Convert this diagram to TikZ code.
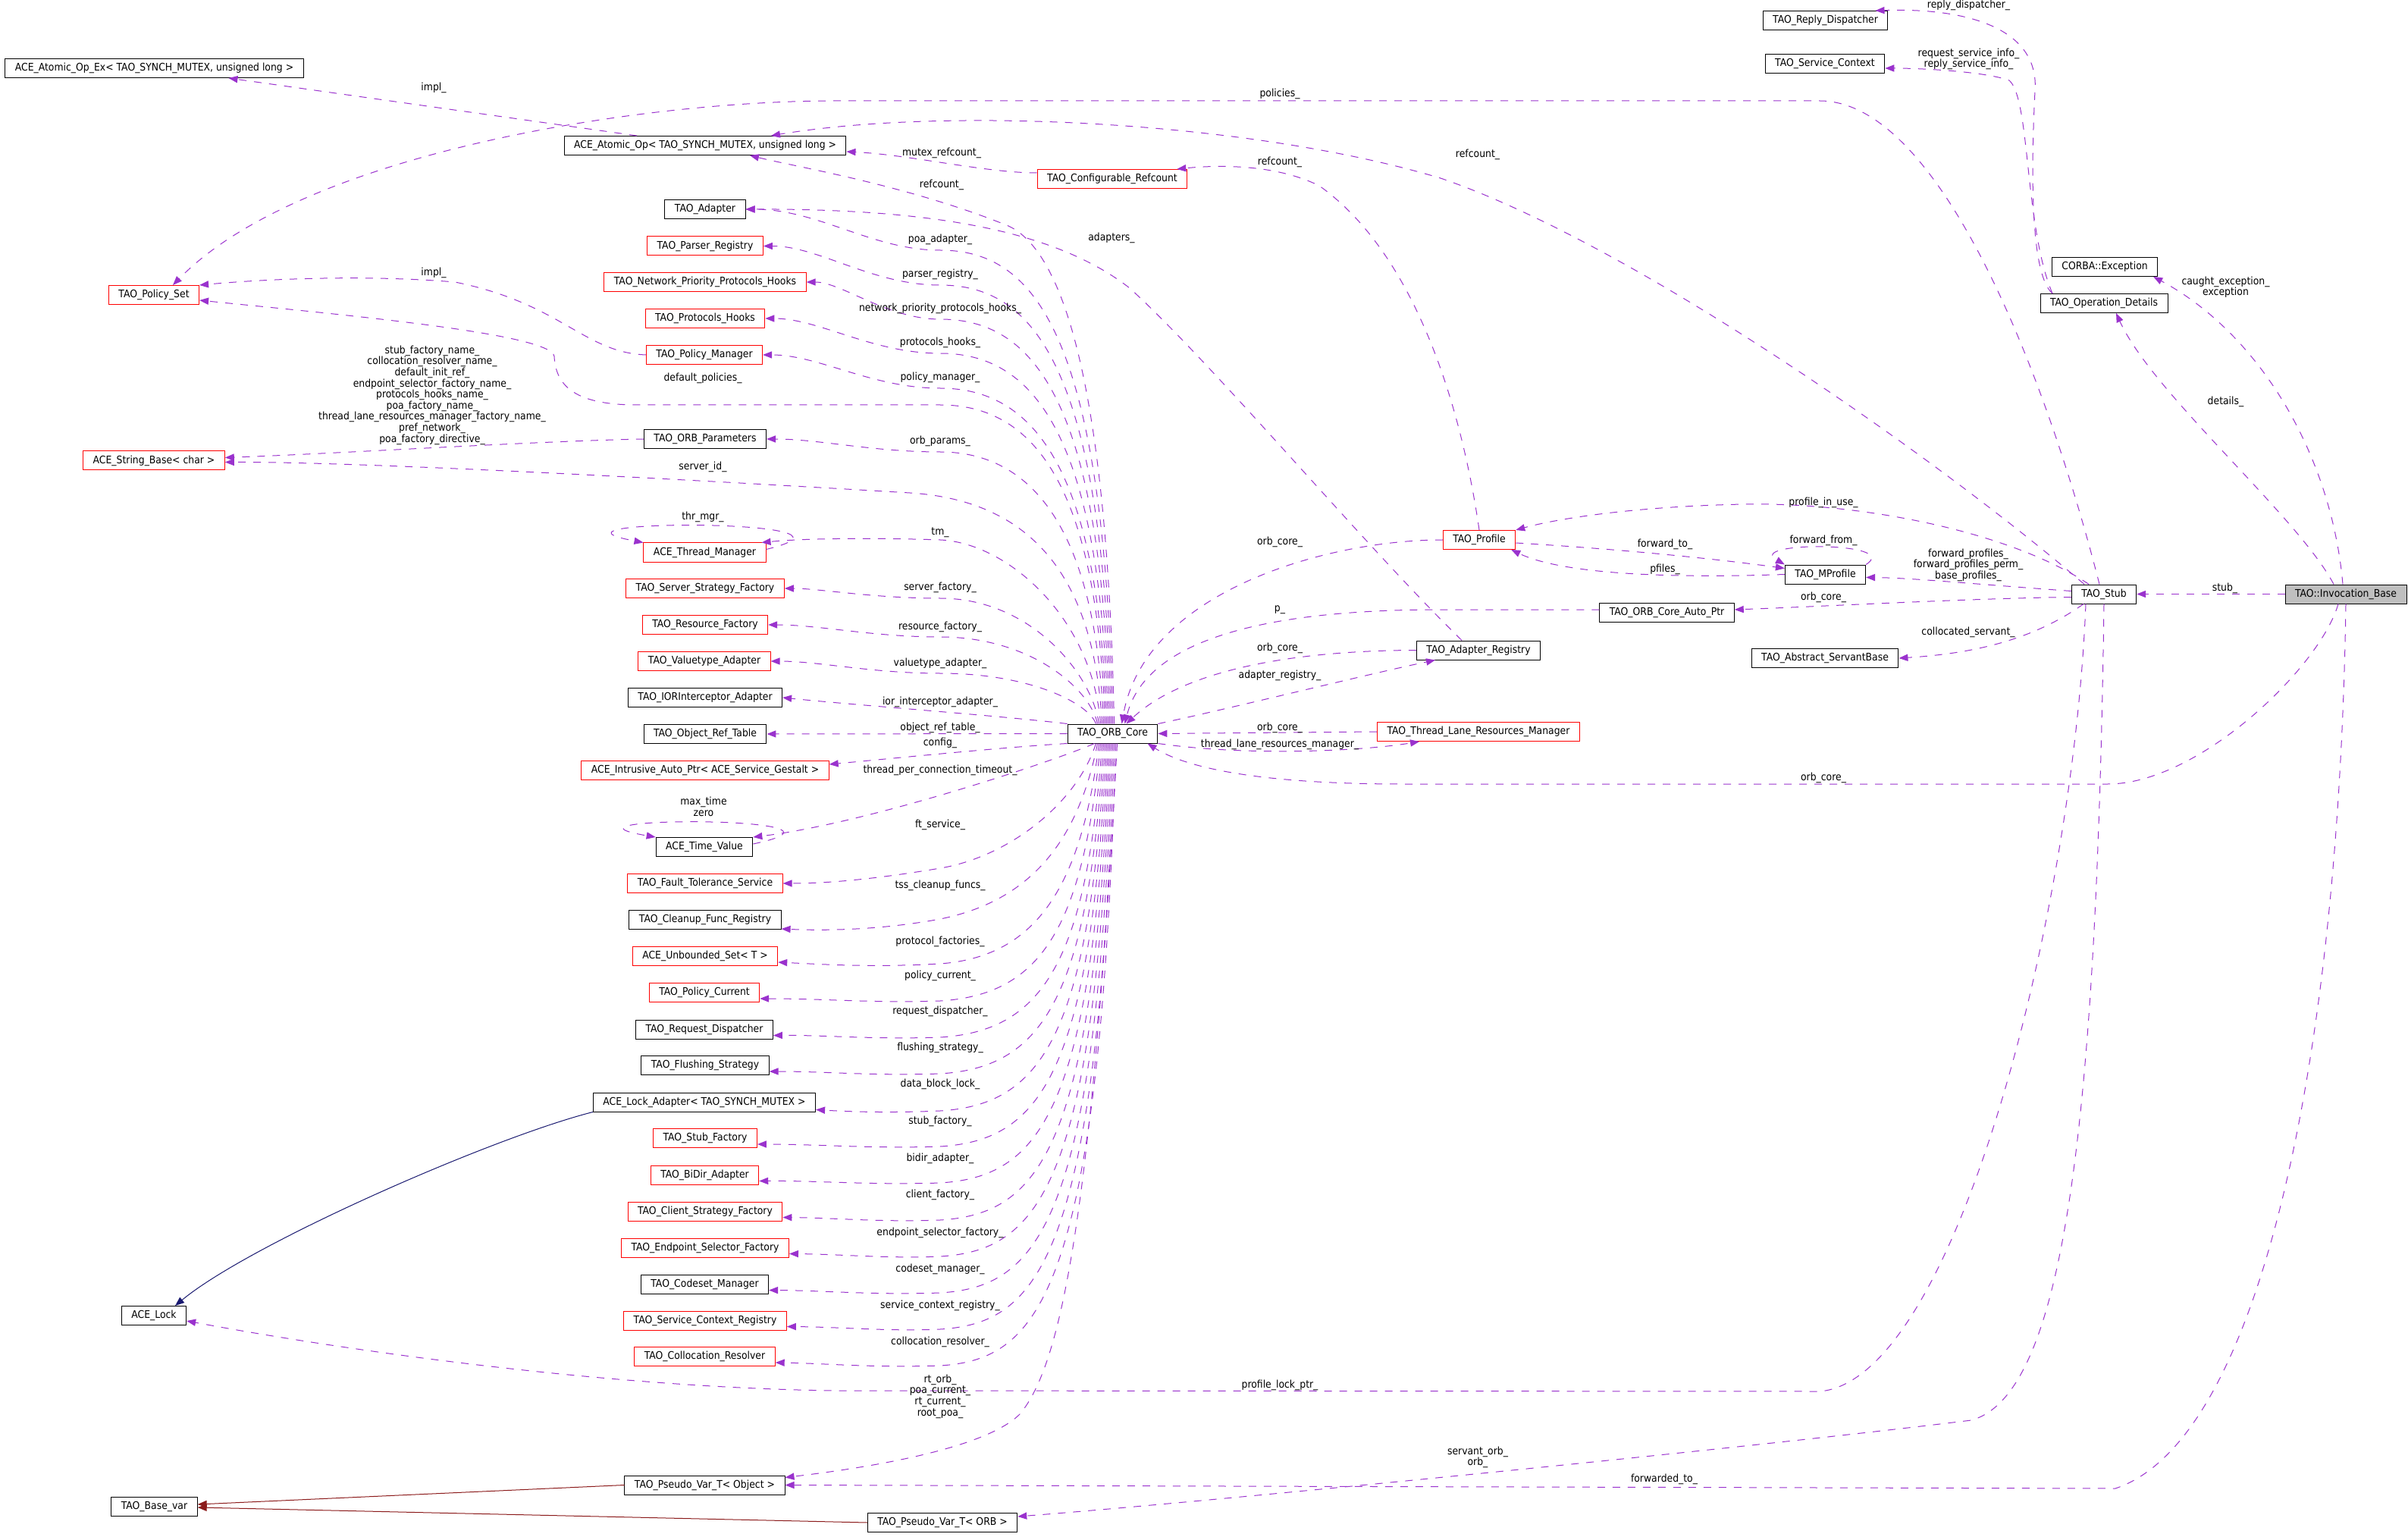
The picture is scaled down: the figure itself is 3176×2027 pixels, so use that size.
\documentclass[tikz,border=0pt]{standalone}
\usepackage{fontspec}
\usepackage{tikz}
\usetikzlibrary{arrows.meta}
\newfontfamily\diagfam{DejaVu Sans}[FakeStretch=0.9]
\newcommand{\diagfont}{\diagfam\fontsize{6.9}{7.3}\selectfont}
\definecolor{memcol}{HTML}{9A32CD}
\definecolor{pubcol}{HTML}{191970}
\definecolor{privcol}{HTML}{8B1A1A}
\definecolor{curfill}{HTML}{BFBFBF}
\tikzset{
    block/.style = {
        draw,
        shape=rectangle,
        fill=white,
        minimum height=12.5pt,
        inner xsep=6.5pt,
        inner ysep=0pt,
        line width=0.5pt,
        font=\diagfont
    },
    redblock/.style = {
        block,
        draw=red
    },
    curblock/.style = {
        block,
        fill=curfill
    },
    lbl/.style = {
        inner sep=0pt,
        align=center,
        font=\diagfont
    },
    member/.style = {
        color=memcol,
        dash pattern=on 5pt off 5pt,
        line width=0.5pt
    },
    pub/.style = {
        color=pubcol,
        line width=0.5pt
    },
    priv/.style = {
        color=privcol,
        line width=0.5pt
    },
    >={Triangle[length=6pt,width=4.6pt]},
}
\begin{document}
\begin{tikzpicture}[x=0.5pt, y=-0.5pt]
                \useasboundingbox (0,0) rectangle (3176,2027);

                \node[block] (atomicopex) at (203.5,90) {ACE\_Atomic\_Op\_Ex< TAO\_SYNCH\_MUTEX, unsigned long >};
                \node[block] (atomicop) at (930,192) {ACE\_Atomic\_Op< TAO\_SYNCH\_MUTEX, unsigned long >};
                \node[redblock] (policyset) at (203,389) {TAO\_Policy\_Set};
                \node[redblock] (stringbase) at (203,607.5) {ACE\_String\_Base< char >};
                \node[block] (acelock) at (203,1735) {ACE\_Lock};
                \node[block] (basevar) at (203.5,1987) {TAO\_Base\_var};
                \node[block] (adapter) at (930,276) {TAO\_Adapter};
                \node[redblock] (parser) at (930,324.5) {TAO\_Parser\_Registry};
                \node[redblock] (netprio) at (930,372) {TAO\_Network\_Priority\_Protocols\_Hooks};
                \node[redblock] (protohooks) at (930,420) {TAO\_Protocols\_Hooks};
                \node[redblock] (polmgr) at (929,468) {TAO\_Policy\_Manager};
                \node[block] (orbparams) at (930,579) {TAO\_ORB\_Parameters};
                \node[redblock] (thrmgr) at (929.5,728.5) {ACE\_Thread\_Manager};
                \node[redblock] (srvfact) at (930,776) {TAO\_Server\_Strategy\_Factory};
                \node[redblock] (resfact) at (930,824) {TAO\_Resource\_Factory};
                \node[redblock] (valadapt) at (929,872) {TAO\_Valuetype\_Adapter};
                \node[block] (iorint) at (930,920) {TAO\_IORInterceptor\_Adapter};
                \node[block] (objref) at (930,968) {TAO\_Object\_Ref\_Table};
                \node[redblock] (intrusive) at (930,1016) {ACE\_Intrusive\_Auto\_Ptr< ACE\_Service\_Gestalt >};
                \node[block] (timeval) at (929,1117) {ACE\_Time\_Value};
                \node[redblock] (ftserv) at (930,1165) {TAO\_Fault\_Tolerance\_Service};
                \node[block] (cleanup) at (930,1213) {TAO\_Cleanup\_Func\_Registry};
                \node[redblock] (unbset) at (930,1261) {ACE\_Unbounded\_Set< T >};
                \node[redblock] (polcur) at (929,1309) {TAO\_Policy\_Current};
                \node[block] (reqdisp) at (929,1357.5) {TAO\_Request\_Dispatcher};
                \node[block] (flush) at (930,1405) {TAO\_Flushing\_Strategy};
                \node[block] (lockadapt) at (929,1453.5) {ACE\_Lock\_Adapter< TAO\_SYNCH\_MUTEX >};
                \node[redblock] (stubfact) at (930,1501) {TAO\_Stub\_Factory};
                \node[redblock] (bidir) at (929.5,1549.5) {TAO\_BiDir\_Adapter};
                \node[redblock] (clistrat) at (930,1597.5) {TAO\_Client\_Strategy\_Factory};
                \node[redblock] (endpoint) at (930,1645.5) {TAO\_Endpoint\_Selector\_Factory};
                \node[block] (codeset) at (929.5,1693.5) {TAO\_Codeset\_Manager};
                \node[redblock] (svcctxreg) at (930,1741.5) {TAO\_Service\_Context\_Registry};
                \node[redblock] (colloc) at (929.5,1789) {TAO\_Collocation\_Resolver};
                \node[block] (pvobject) at (929.5,1958.5) {TAO\_Pseudo\_Var\_T< Object >};
                \node[block] (pvorb) at (1243,2008) {TAO\_Pseudo\_Var\_T< ORB >};
                \node[redblock] (cfgrefcount) at (1467,236) {TAO\_Configurable\_Refcount};
                \node[block] (orbcore) at (1467.5,967.5) {TAO\_ORB\_Core};
                \node[redblock] (profile) at (1951,712) {TAO\_Profile};
                \node[block] (adreg) at (1950,857.5) {TAO\_Adapter\_Registry};
                \node[redblock] (tlrm) at (1950,965) {TAO\_Thread\_Lane\_Resources\_Manager};
                \node[block] (autoptr) at (2198.5,808) {TAO\_ORB\_Core\_Auto\_Ptr};
                \node[block] (replydisp) at (2407.5,27) {TAO\_Reply\_Dispatcher};
                \node[block] (svcctx) at (2407,84) {TAO\_Service\_Context};
                \node[block] (mprofile) at (2407.5,757.5) {TAO\_MProfile};
                \node[block] (servant) at (2407,868) {TAO\_Abstract\_ServantBase};
                \node[block] (corbaex) at (2776,352) {CORBA::Exception};
                \node[block] (opdetails) at (2775,400) {TAO\_Operation\_Details};
                \node[block] (stub) at (2775,783.5) {TAO\_Stub};
                \node[curblock] (invbase) at (3094,783.5) {TAO::Invocation\_Base};

                \path[draw, member, ->] ([xshift=1pt]orbcore.north) .. controls (1460,500) and (1400,330) .. (1330,298) .. controls (1200,245) and (1050,220) .. ([xshift=29.5pt]atomicop.south);
                \path[draw, member, ->] (orbcore.north) .. controls (1457,430) and (1360,330) .. (1240,330) .. controls (1150,330) and (1080,276) .. (adapter.east);
                \path[draw, member, ->] ([xshift=-1pt]orbcore.north) .. controls (1455,476) and (1360,376) .. (1240,376) .. controls (1150,376) and (1080,324.5) .. (parser.east);
                \path[draw, member, ->] ([xshift=-2pt]orbcore.north) .. controls (1453,521) and (1360,421) .. (1240,421) .. controls (1170,421) and (1110,372) .. (netprio.east);
                \path[draw, member, ->] ([xshift=-3pt]orbcore.north) .. controls (1451,566) and (1360,466) .. (1240,466) .. controls (1150,466) and (1080,420) .. (protohooks.east);
                \path[draw, member, ->] ([xshift=-4pt]orbcore.north) .. controls (1449,612) and (1360,512) .. (1240,512) .. controls (1150,512) and (1080,468) .. (polmgr.east);
                \path[draw, member, ->] ([xshift=-5pt]orbcore.north) .. controls (1447,634) and (1360,534) .. (1240,534) -- (840,534) .. controls (760,534) and (733,510) .. (731,470) .. controls (728,440) and (450,415) .. ([yshift=-3.5pt]policyset.east);
                \path[draw, member, ->] ([xshift=-6pt]orbcore.north) .. controls (1445,696) and (1360,596) .. (1240,596) .. controls (1150,596) and (1080,579) .. (orbparams.east);
                \path[draw, member, ->] ([xshift=-7pt]orbcore.north) .. controls (1443,760) and (1360,660) .. (1200,650) .. controls (1000,638) and (500,609) .. ([yshift=-1pt]stringbase.east);
                \path[draw, member, ->] ([xshift=-8pt]orbcore.north) .. controls (1441,816) and (1330,716) .. (1240,712) .. controls (1150,709) and (1060,710) .. ([xshift=-3pt]thrmgr.north east);
                \path[draw, member, ->] ([xshift=-9pt]orbcore.north) .. controls (1440,889) and (1360,789) .. (1240,789) .. controls (1150,789) and (1080,776) .. (srvfact.east);
                \path[draw, member, ->] ([xshift=-10pt]orbcore.north) .. controls (1438,909) and (1360,840) .. (1240,840) .. controls (1150,840) and (1080,824) .. (resfact.east);
                \path[draw, member, ->] ([xshift=-11pt]orbcore.north) .. controls (1436,928) and (1360,888) .. (1240,888) .. controls (1150,888) and (1080,872) .. (valadapt.east);
                \path[draw, member, ->] (orbcore.north west) .. controls (1320,944) and (1130,930) .. (iorint.east);
                \path[draw, member, ->] (orbcore.west) -- (objref.east);
                \path[draw, member, ->] (orbcore.south west) .. controls (1330,985) and (1200,998) .. ([yshift=4pt]intrusive.east);
                \path[draw, member, ->] ([xshift=-12pt]orbcore.south) .. controls (1400,1000) and (1150,1085) .. (timeval.north east);
                \path[draw, member, ->] ([xshift=-11pt]orbcore.south) .. controls (1420,1060) and (1330,1130) .. (1240,1145) .. controls (1150,1160) and (1090,1165) .. (ftserv.east);
                \path[draw, member, ->] ([xshift=-10pt]orbcore.south) .. controls (1420,1120) and (1350,1190) .. (1240,1212) .. controls (1170,1225) and (1100,1228) .. ([yshift=-6pt]cleanup.east);
                \path[draw, member, ->] ([xshift=-9pt]orbcore.south) .. controls (1425,1180) and (1360,1262) .. (1240,1271) .. controls (1150,1276) and (1090,1272) .. ([yshift=-4pt]unbset.east);
                \path[draw, member, ->] ([xshift=-8pt]orbcore.south) .. controls (1428,1229) and (1370,1312) .. (1240,1320) .. controls (1150,1323) and (1090,1317) .. ([yshift=-4pt]polcur.east);
                \path[draw, member, ->] ([xshift=-7pt]orbcore.south) .. controls (1433,1277) and (1370,1360) .. (1240,1368) .. controls (1150,1371) and (1090,1365) .. ([yshift=-4pt]reqdisp.east);
                \path[draw, member, ->] ([xshift=-6pt]orbcore.south) .. controls (1435,1325) and (1370,1408) .. (1240,1416) .. controls (1150,1419) and (1090,1413) .. ([yshift=-4pt]flush.east);
                \path[draw, member, ->] ([xshift=-5pt]orbcore.south) .. controls (1437,1373) and (1370,1457) .. (1240,1465) .. controls (1170,1468) and (1120,1466) .. ([yshift=-5pt]lockadapt.east);
                \path[draw, member, ->] ([xshift=-4pt]orbcore.south) .. controls (1439,1421) and (1370,1504) .. (1240,1512) .. controls (1150,1515) and (1080,1509) .. ([yshift=-4pt]stubfact.east);
                \path[draw, member, ->] ([xshift=-3pt]orbcore.south) .. controls (1441,1469) and (1370,1552) .. (1240,1560) .. controls (1150,1563) and (1080,1557) .. ([yshift=-4pt]bidir.east);
                \path[draw, member, ->] ([xshift=-2pt]orbcore.south) .. controls (1443,1518) and (1370,1601) .. (1240,1609) .. controls (1160,1612) and (1100,1606) .. ([yshift=-4pt]clistrat.east);
                \path[draw, member, ->] ([xshift=-1pt]orbcore.south) .. controls (1445,1565) and (1370,1649) .. (1240,1657) .. controls (1170,1660) and (1110,1654) .. ([yshift=-4pt]endpoint.east);
                \path[draw, member, ->] (orbcore.south) .. controls (1447,1614) and (1370,1697) .. (1240,1705) .. controls (1150,1708) and (1090,1702) .. ([yshift=-4pt]codeset.east);
                \path[draw, member, ->] ([xshift=1pt]orbcore.south) .. controls (1449,1661) and (1370,1745) .. (1240,1753) .. controls (1170,1756) and (1110,1750) .. ([yshift=-4pt]svcctxreg.east);
                \path[draw, member, ->] ([xshift=2pt]orbcore.south) .. controls (1451,1709) and (1370,1793) .. (1240,1801) .. controls (1150,1804) and (1090,1798) .. ([yshift=-4pt]colloc.east);
                \path[draw, member, ->] ([xshift=3pt]orbcore.south) .. controls (1440,1600) and (1400,1800) .. (1345,1865) .. controls (1300,1910) and (1150,1935) .. ([yshift=5pt]pvobject.east);

                \path[draw, member, ->] ([xshift=-45pt]atomicop.north) -- ([xshift=49pt]atomicopex.south);
                \path[draw, member, ->] (polmgr.west) .. controls (770,465) and (740,400) .. (600,372) .. controls (480,362) and (350,368) .. ([yshift=6.5pt]policyset.east);
                \path[draw, member, ->] (orbparams.west) .. controls (700,582) and (450,598) .. ([yshift=2pt]stringbase.east);
                \path[draw, member, ->] ([yshift=4pt]cfgrefcount.west) .. controls (1300,228) and (1200,204) .. ([yshift=2.5pt]atomicop.south east);
                \path[draw, member, ->] (profile.north) .. controls (1925,520) and (1860,330) .. (1740,245) .. controls (1680,215) and (1600,218) .. ([xshift=-7pt]cfgrefcount.north east);
                \path[draw, member, ->] ([xshift=-11pt]adreg.north) .. controls (1800,720) and (1600,480) .. (1490,380) .. controls (1400,310) and (1250,275) .. (adapter.east);
                \path[draw, member, ->] (orbcore.north east) .. controls (1620,935) and (1800,890) .. ([xshift=-28.5pt]adreg.south);
                \path[draw, member, ->] (adreg.west) .. controls (1700,858) and (1560,885) .. ([xshift=9pt]orbcore.north);
                \path[draw, member, ->] ([yshift=2pt]autoptr.west) -- (1900,804) .. controls (1650,804) and (1510,850) .. ([xshift=8pt]orbcore.north);
                \path[draw, member, ->] (profile.west) .. controls (1750,712) and (1510,780) .. ([xshift=6pt]orbcore.north);
                \path[draw, member, ->] (tlrm.west) -- (orbcore.east);
                \path[draw, member, ->] (orbcore.south east) .. controls (1650,998) and (1800,990) .. ([xshift=-39pt]tlrm.south);
                \path[draw, member, ->] ([yshift=-2pt]profile.east) .. controls (2150,725) and (2270,738) .. ([yshift=4pt]mprofile.west);
                \path[draw, member, ->] (mprofile.west) .. controls (2200,763) and (2060,757) .. ([xshift=-3pt]profile.south east);
                \path[draw, member, ->] (mprofile.north east) .. controls (2510,714) and (2300,714) .. (mprofile.north west);
                \path[draw, member, ->] ([yshift=2pt]thrmgr.east) .. controls (1180,684) and (680,684) .. (thrmgr.north west);
                \path[draw, member, ->] ([yshift=2pt]timeval.east) .. controls (1170,1076) and (700,1076) .. (timeval.north west);

                \path[draw, member, ->] ([xshift=-3pt]stub.north) .. controls (2700,500) and (2560,133) .. (2400,133) -- (1100,133) .. controls (850,133) and (400,200) .. ([xshift=12.5pt]policyset.north);
                \path[draw, member, ->] ([xshift=-13pt]stub.north) .. controls (2550,600) and (2150,320) .. (1900,235) .. controls (1650,160) and (1250,140) .. ([xshift=43.5pt]atomicop.north);
                \path[draw, member, ->] ([xshift=-10pt]stub.north) .. controls (2650,700) and (2450,662) .. (2300,665) .. controls (2150,668) and (2050,685) .. (profile.north east);
                \path[draw, member, ->] ([yshift=2pt]stub.west) .. controls (2600,770) and (2520,762) .. ([yshift=-2pt]mprofile.east);
                \path[draw, member, ->] ([yshift=-2pt]stub.west) .. controls (2600,789) and (2400,800) .. ([yshift=2pt]autoptr.east);
                \path[draw, member, ->] ([xshift=-13.5pt]stub.south) .. controls (2680,845) and (2600,862) .. (servant.east);
                \path[draw, member, ->] ([xshift=-12pt]stub.south) .. controls (2735,1200) and (2580,1820) .. (2400,1835) -- (1100,1834) .. controls (800,1830) and (450,1780) .. ([yshift=-3.5pt]acelock.east);
                \path[draw, member, ->] (stub.south) .. controls (2765,1500) and (2720,1840) .. (2600,1873) .. controls (2300,1910) and (1600,1980) .. ([yshift=4pt]pvorb.east);

                \path[draw, member, ->] (invbase.west) -- (stub.east);
                \path[draw, member, ->] ([xshift=-8pt]invbase.north) .. controls (3030,680) and (2840,520) .. ([xshift=8pt]opdetails.south);
                \path[draw, member, ->] ([xshift=-2pt]invbase.north) .. controls (3075,600) and (2980,440) .. ([xshift=-3pt]corbaex.south east);
                \path[draw, member, ->] ([xshift=-5pt]invbase.south) .. controls (3060,880) and (2900,1034) .. (2780,1034) -- (1850,1034) .. controls (1650,1034) and (1560,1010) .. ([xshift=23pt]orbcore.south);
                \path[draw, member, ->] (invbase.south) .. controls (3085,1400) and (2980,1900) .. (2790,1963) -- (pvobject.east);
                \path[draw, member, ->] ([xshift=-34pt]opdetails.north) .. controls (2675,360) and (2680,200) .. (2684,120) .. controls (2690,40) and (2600,10) .. ([xshift=33pt]replydisp.north);
                \path[draw, member, ->] ([xshift=-34pt]opdetails.north) .. controls (2670,300) and (2678,130) .. (2650,106) .. controls (2620,95) and (2540,90) .. ([yshift=-3pt]svcctx.east);

                \path[draw, pub, ->] (lockadapt.south west) .. controls (650,1500) and (330,1640) .. ([xshift=14pt]acelock.north);
                \path[draw, priv, ->] (pvobject.west) -- ([yshift=1.5pt]basevar.east);
                \path[draw, priv, ->] (pvorb.west) -- ([yshift=-0.5pt]basevar.east);

                \node[lbl] (limplop) at (572,116) {impl\_};
                \node[lbl] (limplset) at (572,360) {impl\_};
                \node[lbl] (lpolicies) at (1688,124) {policies\_};
                \node[lbl] (lmutex) at (1242,202) {mutex\_refcount\_};
                \node[lbl] (lrefprof) at (1688,214) {refcount\_};
                \node[lbl] (lrefstub) at (1949,204) {refcount\_};
                \node[lbl] (lreforb) at (1242,244) {refcount\_};
                \node[lbl] (ladapters) at (1466,314) {adapters\_};
                \node[lbl] (lpoa) at (1240,316) {poa\_adapter\_};
                \node[lbl] (lparser) at (1240,362) {parser\_registry\_};
                \node[lbl] (lnetprio) at (1240,407) {network\_priority\_protocols\_hooks\_};
                \node[lbl] (lproto) at (1240,452) {protocols\_hooks\_};
                \node[lbl] (lpolmgr) at (1240,498) {policy\_manager\_};
                \node[lbl] (ldefpol) at (927,499) {default\_policies\_};
                \node[lbl] (lorbparams) at (1240,582) {orb\_params\_};
                \node[lbl] (lnames) at (570,521) {stub\_factory\_name\_\\collocation\_resolver\_name\_\\default\_init\_ref\_\\endpoint\_selector\_factory\_name\_\\protocols\_hooks\_name\_\\poa\_factory\_name\_\\thread\_lane\_resources\_manager\_factory\_name\_\\pref\_network\_\\poa\_factory\_directive\_};
                \node[lbl] (lserverid) at (927,616) {server\_id\_};
                \node[lbl] (lthrmgr) at (927,682) {thr\_mgr\_};
                \node[lbl] (ltm) at (1240,702) {tm\_};
                \node[lbl] (lorbprof) at (1688,715) {orb\_core\_};
                \node[lbl] (lfwdto) at (2196,718) {forward\_to\_};
                \node[lbl] (lfwdfrom) at (2405,713) {forward\_from\_};
                \node[lbl] (linuse) at (2405,662.5) {profile\_in\_use\_};
                \node[lbl] (lpfiles) at (2196,751) {pfiles\_};
                \node[lbl] (lprofiles) at (2596,745) {forward\_profiles\_\\forward\_profiles\_perm\_\\base\_profiles\_};
                \node[lbl] (lsrvfact) at (1240,775) {server\_factory\_};
                \node[lbl] (lstub) at (2934.5,776) {stub\_};
                \node[lbl] (lorbstub) at (2405,788) {orb\_core\_};
                \node[lbl] (lp) at (1688,804.5) {p\_};
                \node[lbl] (lresfact) at (1240,827) {resource\_factory\_};
                \node[lbl] (lcolserv) at (2596,833.5) {collocated\_servant\_};
                \node[lbl] (lorbadreg) at (1688,855) {orb\_core\_};
                \node[lbl] (lvaladapt) at (1240,875) {valuetype\_adapter\_};
                \node[lbl] (ladreg) at (1688,891) {adapter\_registry\_};
                \node[lbl] (lior) at (1240,926) {ior\_interceptor\_adapter\_};
                \node[lbl] (lobjref) at (1240,960) {object\_ref\_table\_};
                \node[lbl] (lorbtlrm) at (1688,960) {orb\_core\_};
                \node[lbl] (lconfig) at (1240,980) {config\_};
                \node[lbl] (ltlrm) at (1688,982) {thread\_lane\_resources\_manager\_};
                \node[lbl] (ltimeout) at (1240,1016) {thread\_per\_connection\_timeout\_};
                \node[lbl] (lorbinv) at (2405,1026) {orb\_core\_};
                \node[lbl] (ltimes) at (928,1064) {max\_time\\zero};
                \node[lbl] (lft) at (1240,1087.5) {ft\_service\_};
                \node[lbl] (ltss) at (1240,1168) {tss\_cleanup\_funcs\_};
                \node[lbl] (lprotofact) at (1240,1242) {protocol\_factories\_};
                \node[lbl] (lpolcur) at (1240,1287) {policy\_current\_};
                \node[lbl] (lreqdisp) at (1240,1334) {request\_dispatcher\_};
                \node[lbl] (lflush) at (1240,1382) {flushing\_strategy\_};
                \node[lbl] (ldblock) at (1240,1430) {data\_block\_lock\_};
                \node[lbl] (lstubfact) at (1240,1479) {stub\_factory\_};
                \node[lbl] (lbidir) at (1240,1527.5) {bidir\_adapter\_};
                \node[lbl] (lclient) at (1240,1576) {client\_factory\_};
                \node[lbl] (lendpoint) at (1240,1626) {endpoint\_selector\_factory\_};
                \node[lbl] (lcodeset) at (1240,1673.5) {codeset\_manager\_};
                \node[lbl] (lsvcreg) at (1240,1722) {service\_context\_registry\_};
                \node[lbl] (lcolloc) at (1240,1769.5) {collocation\_resolver\_};
                \node[lbl] (lrtorb) at (1240,1841.5) {rt\_orb\_\\poa\_current\_\\rt\_current\_\\root\_poa\_};
                \node[lbl] (llockptr) at (1688,1827) {profile\_lock\_ptr\_};
                \node[lbl] (lservorb) at (1949,1922) {servant\_orb\_\\orb\_};
                \node[lbl] (lfwded) at (2195,1951) {forwarded\_to\_};
                \node[lbl] (lreplydisp) at (2596.5,7) {reply\_dispatcher\_};
                \node[lbl] (lsvcinfo) at (2596.5,78) {request\_service\_info\_\\reply\_service\_info\_};
                \node[lbl] (lcaught) at (2935.5,378.5) {caught\_exception\_\\exception};
                \node[lbl] (ldetails) at (2935.5,530) {details\_};
            \end{tikzpicture}
\end{document}
